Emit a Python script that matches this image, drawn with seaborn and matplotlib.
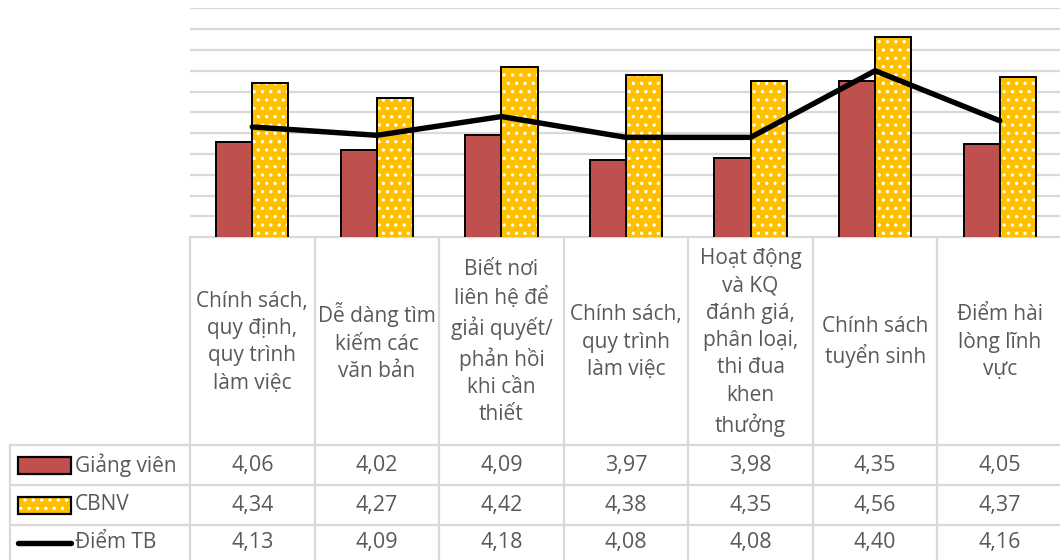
import numpy as np
import pandas as pd
import matplotlib
matplotlib.use("Agg")
import matplotlib.pyplot as plt
from matplotlib.patches import Rectangle
from matplotlib.lines import Line2D
import seaborn as sns

categories = [
    "Chính sách,\nquy định,\nquy trình\nlàm việc",
    "Dễ dàng tìm\nkiếm các\nvăn bản",
    "Biết nơi\nliên hệ để\ngiải quyết/\nphản hồi\nkhi cần\nthiết",
    "Chính sách,\nquy trình\nlàm việc",
    "Hoạt động\nvà KQ\nđánh giá,\nphân loại,\nthi đua\nkhen\nthưởng",
    "Chính sách\ntuyển sinh",
    "Điểm hài\nlòng lĩnh\nvực",
]
giang_vien = [4.06, 4.02, 4.09, 3.97, 3.98, 4.35, 4.05]
cbnv = [4.34, 4.27, 4.42, 4.38, 4.35, 4.56, 4.37]
diem_tb = [4.13, 4.09, 4.18, 4.08, 4.08, 4.40, 4.16]
series_names = ["Giảng viên", "CBNV", "Điểm TB"]

RED = "#C0504D"
GOLD = "#FFC000"
GRID = "#D9D9D9"
TXT = "#595959"

sns.set_style("white")
plt.rcParams["font.family"] = ["Open Sans", "DejaVu Sans"]
plt.rcParams["hatch.linewidth"] = 1.2

W, H = 1060, 560
fig = plt.figure(figsize=(W / 100, H / 100), dpi=100)

# geometry (pixels)
x0, x1 = 190, 1062
ytop, ybase = 8.3, 237.3
ax = fig.add_axes([x0 / W, 1 - ybase / H, (x1 - x0) / W, (ybase - ytop) / H])

n = len(categories)
df = pd.DataFrame({
    "cat": list(range(n)) * 2,
    "val": giang_vien + cbnv,
    "series": [series_names[0]] * n + [series_names[1]] * n,
})
sns.barplot(data=df, x="cat", y="val", hue="series", palette=[RED, GOLD],
            saturation=1, width=0.58, edgecolor="black", linewidth=1.4, ax=ax,
            legend=False, errorbar=None, zorder=2)

# dotted pattern on CBNV bars
for p in ax.containers[1]:
    p.set_hatch("..")
    p.set_edgecolor("white")
    p.set_linewidth(0)
    r = Rectangle(p.get_xy(), p.get_width(), p.get_height(), fill=False,
                  edgecolor="black", linewidth=1.4, zorder=3)
    ax.add_patch(r)

sns.lineplot(x=np.arange(n), y=diem_tb, color="black", linewidth=3.9, ax=ax,
             zorder=4, solid_capstyle="round", solid_joinstyle="round")

ax.set_ylim(3.6, 4.7)
ax.set_xlim(-0.5, n - 0.5)
ax.set_yticks(np.round(np.arange(3.6, 4.71, 0.1), 2))
ax.yaxis.grid(True, color=GRID, linewidth=1.6, zorder=0)
ax.set_axisbelow(True)
ax.set_xticks([])
ax.set_yticklabels([])
ax.tick_params(left=False, bottom=False)
ax.set_xlabel("")
ax.set_ylabel("")
for s in ax.spines.values():
    s.set_visible(False)

# data table overlay
tx = fig.add_axes([0, 0, 1, 1], zorder=-1)
tx.set_xlim(0, W)
tx.set_ylim(H, 0)
tx.axis("off")
tx.patch.set_alpha(0)

colw = (x1 - x0) / n
row_y = [445, 485, 525, 560]
lc = dict(color=GRID, linewidth=1.6)
tx.plot([x0, W], [ybase, ybase], **lc)
for i in range(n + 1):
    xx = x0 + i * colw
    tx.plot([xx, xx], [ybase, H], **lc)
tx.plot([10, 10], [row_y[0], H], **lc)
for yy in row_y[:3]:
    tx.plot([10, W], [yy, yy], **lc)

for i, c in enumerate(categories):
    tx.text(x0 + (i + 0.5) * colw, (ybase + row_y[0]) / 2 + 1, c, ha="center",
            va="center", fontsize=15, color=TXT, linespacing=1.40)

rows = [giang_vien, cbnv, diem_tb]
for r, vals in enumerate(rows):
    yc = (row_y[r] + row_y[r + 1]) / 2
    for i, v in enumerate(vals):
        tx.text(x0 + (i + 0.5) * colw, yc, f"{v:.2f}".replace(".", ","),
                ha="center", va="center", fontsize=15.5, color=TXT)
    tx.text(75, yc, series_names[r], ha="left", va="center", fontsize=15, color=TXT)

# legend keys
yc0 = (row_y[0] + row_y[1]) / 2
tx.add_patch(Rectangle((18, yc0 - 8.5), 53, 17, facecolor=RED, edgecolor="black", linewidth=1.6))
yc1 = (row_y[1] + row_y[2]) / 2
tx.add_patch(Rectangle((18, yc1 - 8.5), 53, 17, facecolor=GOLD, edgecolor="white",
                       linewidth=0, hatch=".."))
tx.add_patch(Rectangle((18, yc1 - 8.5), 53, 17, fill=False, edgecolor="black", linewidth=1.6))
yc2 = (row_y[2] + row_y[3]) / 2
tx.add_line(Line2D([18, 71], [yc2, yc2], color="black", linewidth=3.9, solid_capstyle="round"))

fig.savefig("out.png", dpi=100)
